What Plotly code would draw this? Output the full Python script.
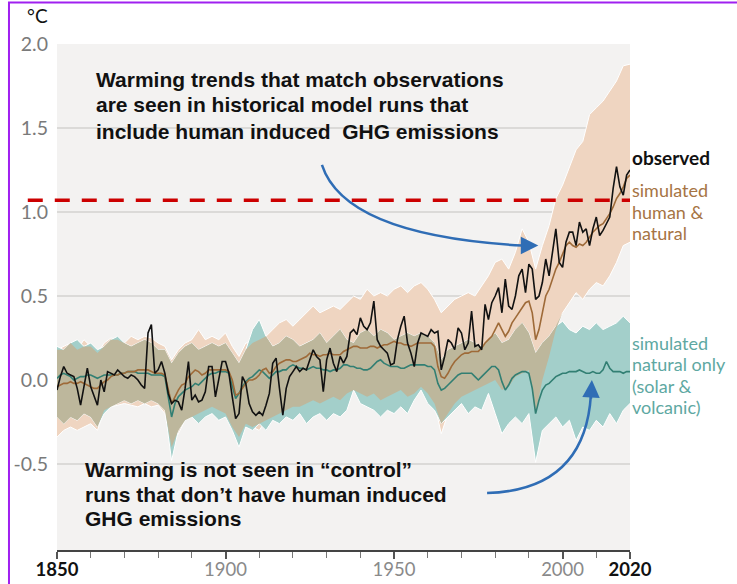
import numpy as np
import plotly.graph_objects as go

# ── data (°C relative to 1850-1900) ──────────────────────────────────────
years = list(range(1850, 2021))

observed = [
    -0.06, 0.02, 0.08, 0.04, 0.03, 0.02, -0.05, -0.15, -0.04, 0.07,   # 1850s
    -0.04, -0.10, -0.15, 0.00, -0.07, 0.05, 0.04, 0.03, 0.06, 0.04,   # 1860s
    0.02, 0.01, 0.03, 0.02, 0.00, -0.03, -0.05, 0.28, 0.33, 0.04,     # 1870s
    0.06, 0.11, 0.04, -0.08, -0.14, -0.12, -0.13, -0.18, -0.05, 0.11, # 1880s
    -0.12, -0.09, -0.13, -0.12, -0.07, 0.08, 0.08, -0.10, 0.01, 0.11, # 1890s
    0.11, 0.04, -0.10, -0.23, -0.20, 0.02, -0.02, -0.14, -0.19, -0.21, # 1900s
    -0.19, -0.21, -0.15, -0.08, 0.10, 0.13, -0.05, -0.21, -0.05, 0.02, # 1910s
    0.05, 0.08, 0.05, 0.07, 0.06, 0.12, 0.18, 0.14, 0.12, -0.07,      # 1920s
    0.12, 0.19, 0.10, 0.05, 0.14, 0.10, 0.14, 0.28, 0.30, 0.27,       # 1930s
    0.37, 0.32, 0.30, 0.34, 0.47, 0.24, 0.20, 0.18, 0.16, 0.09,       # 1940s
    0.10, 0.24, 0.32, 0.38, 0.22, 0.16, 0.08, 0.22, 0.28, 0.27,       # 1950s
    0.26, 0.30, 0.28, 0.29, 0.06, 0.14, 0.24, 0.22, 0.18, 0.31,       # 1960s
    0.28, 0.18, 0.22, 0.41, 0.20, 0.21, 0.18, 0.45, 0.36, 0.46,       # 1970s
    0.50, 0.55, 0.40, 0.60, 0.44, 0.42, 0.50, 0.62, 0.66, 0.52,       # 1980s
    0.69, 0.66, 0.48, 0.50, 0.58, 0.72, 0.62, 0.76, 0.90, 0.70,       # 1990s
    0.67, 0.82, 0.88, 0.88, 0.80, 0.94, 0.88, 0.90, 0.80, 0.90,       # 2000s
    0.97, 0.86, 0.89, 0.93, 0.97, 1.14, 1.27, 1.15, 1.10, 1.22,       # 2010s
    1.25,                                                             # 2020
]

sim_human = [
    -0.04, -0.03, -0.02, -0.02, -0.01, -0.02, -0.02, -0.01, -0.02, -0.03,
    -0.04, -0.05, -0.05, -0.03, -0.01, 0.00, 0.02, 0.03, 0.03, 0.04,
    0.04, 0.05, 0.05, 0.05, 0.06, 0.06, 0.06, 0.06, 0.05, 0.04,
    0.04, 0.04, 0.03, -0.05, -0.14, -0.10, -0.06, -0.03, -0.02, 0.02,
    0.04, 0.06, 0.05, 0.03, 0.04, 0.06, 0.06, 0.06, 0.06, 0.06,
    0.06, 0.05, 0.00, -0.09, -0.08, -0.05, -0.02, 0.00, 0.00, 0.01,
    0.03, 0.06, 0.07, 0.04, 0.05, 0.08, 0.10, 0.11, 0.12, 0.12,
    0.11, 0.11, 0.12, 0.13, 0.14, 0.16, 0.15, 0.15, 0.14, 0.15,
    0.15, 0.16, 0.15, 0.15, 0.15, 0.17, 0.18, 0.19, 0.20, 0.20,
    0.19, 0.19, 0.19, 0.20, 0.20, 0.19, 0.20, 0.21, 0.21, 0.22,
    0.23, 0.22, 0.22, 0.21, 0.21, 0.20, 0.21, 0.22, 0.22, 0.22,
    0.22, 0.22, 0.20, 0.08, 0.02, 0.01, 0.04, 0.08, 0.11, 0.13,
    0.15, 0.16, 0.16, 0.17, 0.17, 0.17, 0.19, 0.22, 0.24, 0.26,
    0.30, 0.34, 0.30, 0.26, 0.29, 0.34, 0.37, 0.40, 0.43, 0.46,
    0.47, 0.40, 0.24, 0.30, 0.40, 0.50, 0.54, 0.60, 0.66, 0.70,
    0.75, 0.80, 0.82, 0.80, 0.79, 0.81, 0.80, 0.82, 0.85, 0.88,
    0.90, 0.92, 0.93, 0.96, 0.99, 1.03, 1.08, 1.11, 1.15, 1.20,
    1.22,
]

sim_natural = [
    0.01, 0.03, 0.04, 0.03, 0.02, 0.00, 0.01, 0.02, 0.02, 0.03,
    0.03, 0.02, 0.01, 0.02, 0.03, 0.03, 0.03, 0.03, 0.03, 0.04,
    0.04, 0.05, 0.05, 0.05, 0.04, 0.04, 0.04, 0.04, 0.03, 0.03,
    0.03, 0.03, 0.02, -0.10, -0.22, -0.14, -0.10, -0.08, -0.06, -0.05,
    -0.04, -0.02, -0.03, -0.01, 0.01, 0.03, 0.04, 0.04, 0.05, 0.05,
    0.05, 0.04, -0.03, -0.11, -0.08, -0.04, -0.01, 0.01, 0.02, 0.04,
    0.06, 0.05, 0.03, 0.01, 0.03, 0.05, 0.05, 0.06, 0.06, 0.08,
    0.09, 0.08, 0.07, 0.07, 0.06, 0.07, 0.08, 0.07, 0.07, 0.06,
    0.06, 0.05, 0.06, 0.06, 0.07, 0.09, 0.09, 0.08, 0.08, 0.07,
    0.07, 0.06, 0.06, 0.07, 0.09, 0.11, 0.12, 0.10, 0.09, 0.08,
    0.08, 0.08, 0.07, 0.07, 0.08, 0.09, 0.09, 0.09, 0.09, 0.09,
    0.08, 0.08, 0.06, -0.02, -0.06, -0.05, -0.03, -0.01, 0.01, 0.03,
    0.04, 0.04, 0.04, 0.04, 0.02, 0.00, 0.02, 0.04, 0.06, 0.08,
    0.08, 0.06, -0.01, -0.06, -0.03, 0.01, 0.03, 0.04, 0.05, 0.05,
    0.04, -0.05, -0.20, -0.12, -0.06, -0.03, -0.02, 0.00, 0.02, 0.03,
    0.04, 0.04, 0.05, 0.05, 0.05, 0.06, 0.05, 0.04, 0.04, 0.05,
    0.04, 0.04, 0.06, 0.11, 0.07, 0.05, 0.05, 0.05, 0.04, 0.05,
    0.05,
]

# model ranges, every second year
band_years = list(range(1850, 2021, 2))

human_hi = [
    0.18, 0.20, 0.22, 0.18, 0.24, 0.20, 0.16, 0.22, 0.25, 0.24,   # 1850-1868
    0.22, 0.26, 0.24, 0.26, 0.25, 0.22, 0.20, 0.12, 0.18, 0.22,   # 1870-1888
    0.24, 0.30, 0.24, 0.26, 0.24, 0.28, 0.20, 0.14, 0.22, 0.22,   # 1890-1908
    0.24, 0.26, 0.30, 0.34, 0.36, 0.32, 0.36, 0.40, 0.44, 0.40,   # 1910-1928
    0.42, 0.44, 0.42, 0.46, 0.50, 0.48, 0.54, 0.50, 0.52, 0.50,   # 1930-1948
    0.54, 0.56, 0.52, 0.56, 0.58, 0.54, 0.48, 0.40, 0.44, 0.48,   # 1950-1968
    0.50, 0.52, 0.50, 0.56, 0.62, 0.70, 0.72, 0.66, 0.76, 0.90,   # 1970-1988
    0.82, 0.66, 0.80, 0.92, 1.08, 1.16, 1.26, 1.37, 1.42, 1.58,   # 1990-2008
    1.62, 1.66, 1.72, 1.78, 1.87, 1.88,                           # 2010-2020
]
human_lo = [
    -0.34, -0.30, -0.28, -0.30, -0.28, -0.26, -0.30, -0.18, -0.16, -0.15,
    -0.14, -0.15, -0.16, -0.14, -0.16, -0.15, -0.20, -0.40, -0.32, -0.24,
    -0.22, -0.20, -0.18, -0.16, -0.18, -0.20, -0.28, -0.34, -0.26, -0.28,
    -0.30, -0.24, -0.22, -0.20, -0.18, -0.16, -0.16, -0.14, -0.12, -0.14,
    -0.12, -0.10, -0.12, -0.08, -0.06, -0.08, -0.10, -0.08, -0.12, -0.10,
    -0.08, -0.06, -0.10, -0.08, -0.04, -0.08, -0.14, -0.32, -0.20, -0.14,
    -0.10, -0.08, -0.06, -0.04, -0.02, 0.00, -0.06, -0.04, 0.02, 0.04,
    0.06, -0.20, 0.00, 0.14, 0.30, 0.40, 0.46, 0.52, 0.48, 0.54,
    0.58, 0.56, 0.62, 0.70, 0.80, 0.82,
]
natural_hi = [
    0.20, 0.18, 0.22, 0.24, 0.20, 0.22, 0.18, 0.20, 0.24, 0.26,
    0.22, 0.20, 0.22, 0.24, 0.22, 0.18, 0.18, 0.10, 0.16, 0.20,
    0.22, 0.18, 0.20, 0.22, 0.20, 0.22, 0.16, 0.10, 0.18, 0.30,
    0.36, 0.26, 0.20, 0.22, 0.26, 0.24, 0.20, 0.22, 0.24, 0.28,
    0.22, 0.26, 0.30, 0.24, 0.22, 0.28, 0.30, 0.26, 0.30, 0.28,
    0.24, 0.26, 0.28, 0.26, 0.28, 0.26, 0.22, 0.12, 0.18, 0.20,
    0.22, 0.24, 0.22, 0.20, 0.24, 0.28, 0.22, 0.24, 0.30, 0.34,
    0.28, 0.16, 0.22, 0.26, 0.32, 0.35, 0.30, 0.28, 0.32, 0.30,
    0.34, 0.30, 0.32, 0.34, 0.38, 0.34,
]
natural_lo = [
    -0.22, -0.26, -0.22, -0.24, -0.20, -0.22, -0.28, -0.20, -0.16, -0.14,
    -0.12, -0.14, -0.12, -0.14, -0.12, -0.14, -0.18, -0.48, -0.30, -0.24,
    -0.22, -0.26, -0.22, -0.20, -0.24, -0.22, -0.30, -0.40, -0.28, -0.30,
    -0.26, -0.30, -0.24, -0.26, -0.22, -0.24, -0.20, -0.26, -0.22, -0.20,
    -0.24, -0.20, -0.22, -0.18, -0.06, -0.14, -0.16, -0.18, -0.22, -0.18,
    -0.20, -0.16, -0.20, -0.12, -0.06, -0.14, -0.18, -0.26, -0.22, -0.18,
    -0.14, -0.20, -0.16, -0.18, -0.08, -0.20, -0.32, -0.26, -0.22, -0.26,
    -0.20, -0.49, -0.30, -0.26, -0.22, -0.28, -0.24, -0.36, -0.28, -0.30,
    -0.24, -0.28, -0.20, -0.26, -0.18, -0.14,
]

threshold = 1.07  # present-day warming level, red dashed line

note_top = ["Warming trends that match observations",
            "are seen in historical model runs that",
            "include human induced  GHG emissions"]
note_bottom = ["Warming is not seen in “control”",
               "runs that don’t have human induced",
               "GHG emissions"]
label_human = ["simulated", "human &amp;", "natural"]
label_natural = ["simulated", "natural only", "(solar &amp;", "volcanic)"]
x_ticks = [1850, 1900, 1950, 2000, 2020]
y_ticks = [-0.5, 0.0, 0.5, 1.0, 1.5, 2.0]
y_tick_text = ["-0.5", "0.0", "0.5", "1.0", "1.5", "2.0"]

# ── styling ──────────────────────────────────────────────────────────────
_PEACH = "#efd5c1"
_TEAL = "#a3cfca"
_OLIVE = "#bdb79c"
_BROWN = "#9e6a38"
_TEAL_LINE = "#327f73"
_TEAL_TEXT = "#5ea8a2"
_BROWN_TEXT = "#a67444"
_BLUE = "#2f6db5"
_RED = "#cc0000"
_BG = "#f3f2f1"
_LATO = "Lato, Open Sans, sans-serif"
_ARIAL = "Liberation Sans, Arial, sans-serif"

fig = go.Figure()


def _band(lo, hi, color, edge):
    fig.add_trace(go.Scatter(x=band_years, y=lo, mode="lines",
                             line=dict(color=edge, width=1 if edge else 0),
                             hoverinfo="skip", showlegend=False))
    fig.add_trace(go.Scatter(x=band_years, y=hi, mode="lines", fill="tonexty",
                             fillcolor=color,
                             line=dict(color=edge, width=1 if edge else 0),
                             hoverinfo="skip", showlegend=False))


_band(human_lo, human_hi, _PEACH, "white")
_band(natural_lo, natural_hi, _TEAL, "white")

# overlap of the two ranges
ov_lo = np.maximum(human_lo, natural_lo)
ov_hi = np.maximum(np.minimum(human_hi, natural_hi), ov_lo)
_band(ov_lo, ov_hi, _OLIVE, None)

fig.add_trace(go.Scatter(x=years, y=sim_natural, mode="lines",
                         line=dict(color=_TEAL_LINE, width=1.6), showlegend=False))
fig.add_trace(go.Scatter(x=years, y=sim_human, mode="lines",
                         line=dict(color=_BROWN, width=1.6), showlegend=False))
fig.add_trace(go.Scatter(x=years, y=observed, mode="lines",
                         line=dict(color="#111111", width=1.6), showlegend=False))

# red dashed reference line (runs into the left margin)
fig.add_shape(type="line", xref="paper", yref="y", x0=-0.051, x1=1.0,
              y0=threshold, y1=threshold,
              line=dict(color=_RED, width=3.5, dash="15px,12px"))

# curved arrows
fig.add_shape(type="path", xref="x", yref="y",
              path="M 1928.6,1.28 Q 1935.4,0.86 1988.0,0.80",
              line=dict(color=_BLUE, width=2.5))
fig.add_shape(type="path", xref="x", yref="y",
              path="M 1977.6,-0.673 Q 2006.6,-0.655 2008.4,-0.09",
              line=dict(color=_BLUE, width=2.5))
for tip, tail in [((1992.8, 0.80), (1987.5, 0.80)),
                  ((2008.7, 0.0), (2008.4, -0.12))]:
    fig.add_annotation(x=tip[0], y=tip[1], ax=tail[0], ay=tail[1],
                       xref="x", yref="y", axref="x", ayref="y", text="",
                       showarrow=True, arrowhead=2, arrowsize=1.4,
                       arrowwidth=2.5, arrowcolor=_BLUE, standoff=0)

# explanatory notes, one annotation per line for exact spacing
for text, y in zip(note_top, [1.786, 1.637, 1.482]):
    fig.add_annotation(x=1862.2, y=y, xref="x", yref="y", xanchor="left",
                       yanchor="middle", xshift=-4, showarrow=False,
                       text=f"<b>{text}</b>",
                       font=dict(family=_ARIAL, size=21, color="#111111"))
for text, y in zip(note_bottom, [-0.530, -0.679, -0.827]):
    fig.add_annotation(x=1858.9, y=y, xref="x", yref="y", xanchor="left",
                       yanchor="middle", xshift=-4, showarrow=False,
                       text=f"<b>{text}</b>",
                       font=dict(family=_ARIAL, size=21, color="#111111"))

# series labels at the right
fig.add_annotation(x=1.0, y=1.327, xref="paper", yref="y", xanchor="left",
                   yanchor="middle", showarrow=False,
                   font=dict(family=_LATO, size=19, color="#111111"),
                   text="<b>observed</b>")
for text, y in zip(label_human, [1.131, 1.0, 0.875]):
    fig.add_annotation(x=1.0, y=y, xref="paper", yref="y", xanchor="left",
                       yanchor="middle", showarrow=False, text=text,
                       font=dict(family=_LATO, size=18, color=_BROWN_TEXT))
for text, y in zip(label_natural, [0.220, 0.095, -0.036, -0.161]):
    fig.add_annotation(x=1.0, y=y, xref="paper", yref="y", xanchor="left",
                       yanchor="middle", showarrow=False, text=text,
                       font=dict(family=_LATO, size=18, color=_TEAL_TEXT))
fig.add_annotation(x=-0.056, y=1.057, xref="paper", yref="paper", xanchor="left",
                   yanchor="middle", showarrow=False,
                   font=dict(family=_LATO, size=19, color="#111111"), text="°C")

# purple frame of the original slide
fig.add_shape(type="rect", xref="paper", yref="paper", x0=-0.0838, x1=1.3,
              y0=-0.2, y1=1.082, line=dict(color="#a020f0", width=2),
              fillcolor="rgba(0,0,0,0)", layer="above")

tick_text = [f"<b><span style='color:#111111'>{t}</span></b>"
             if t in (1850, 2020) else str(t) for t in x_ticks]

fig.update_layout(
    width=737, height=584,
    margin=dict(l=57, r=107, t=44, b=34, autoexpand=False),
    paper_bgcolor="white", plot_bgcolor=_BG,
    showlegend=False,
    xaxis=dict(
        range=[1850, 2020], showgrid=False, zeroline=False, automargin=False,
        showline=True, linecolor="#444444", linewidth=1.5,
        ticks="outside", ticklen=7, tickcolor="#555555", tickwidth=1.5,
        tickvals=x_ticks, ticktext=tick_text, ticklabelstandoff=-5,
        tickfont=dict(family=_LATO, size=18.5, color="#8a8a8a"),
        minor=dict(dtick=10, tick0=1850, ticks="outside", ticklen=6,
                   tickcolor="#777777", tickwidth=1),
    ),
    yaxis=dict(
        range=[-1.012, 2.0], tickvals=y_ticks, ticktext=y_tick_text,
        showgrid=True, gridcolor="#dbdad8", gridwidth=1.5,
        zeroline=False, showline=False, ticks="", ticklabelstandoff=8,
        automargin=False,
        tickfont=dict(family=_LATO, size=19.5, color="#7a7a7a"),
    ),
)

fig.write_html("out.html", config={"displayModeBar": False},
               post_script="document.body.style.margin='0px';"
                           "document.body.style.overflow='hidden';")
